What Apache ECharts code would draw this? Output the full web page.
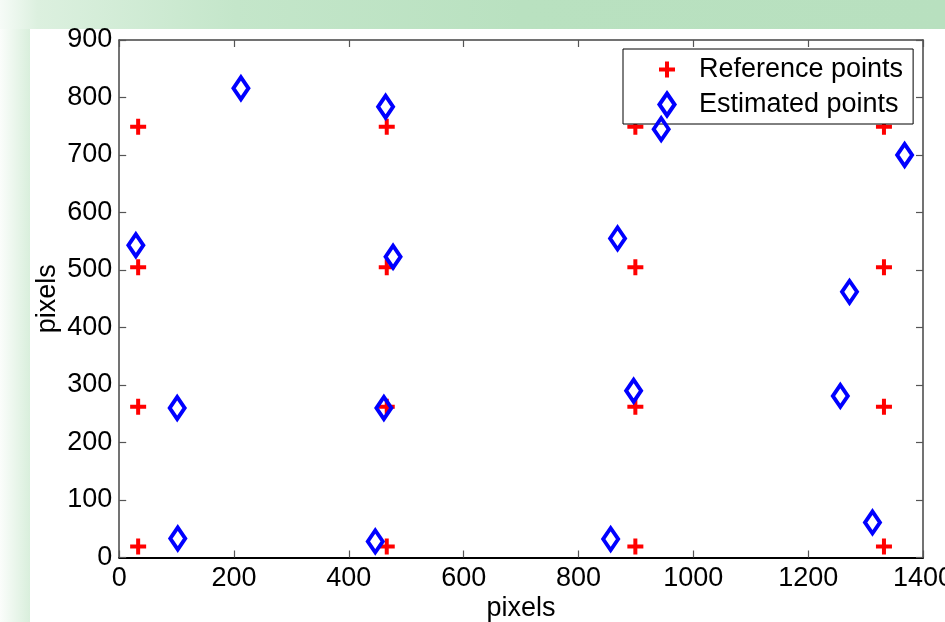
<!DOCTYPE html>
<html>
<head>
<meta charset="utf-8">
<script src="https://cdn.jsdelivr.net/npm/echarts@6/dist/echarts.min.js"></script>
<style>
  html, body { margin: 0; padding: 0; background: #fff; }
  #chart { width: 945px; height: 622px; }
</style>
</head>
<body>
<div id="chart"></div>
<script>
// ---- data ----
const xTicks = [0, 200, 400, 600, 800, 1000, 1200, 1400];
const yTicks = [0, 100, 200, 300, 400, 500, 600, 700, 800, 900];
const seriesNames = ['Reference points', 'Estimated points'];
const axisTitleX = 'pixels';
const axisTitleY = 'pixels';

const referencePoints = [
  [33, 19], [33, 262], [33, 505], [33, 749],
  [466, 19], [466, 262], [466, 505], [466, 749],
  [899, 19], [899, 262], [899, 505], [899, 749],
  [1332, 19], [1332, 262], [1332, 505], [1332, 749]
];

const estimatedPoints = [
  [29, 543], [101, 260], [102, 33], [212, 816],
  [464, 784], [477, 523], [461, 260], [446, 28],
  [868, 555], [896, 290], [856, 32], [944, 745],
  [1272, 462], [1256, 281], [1312, 61], [1368, 700]
];

// ---- styling ----
const FONT = "'Liberation Sans', Arial, Helvetica, sans-serif";
const PLUS = 'path://M-1,0 L1,0 M0,-1 L0,1';
const PLUS_LEGEND = 'path://M-1.375,-1.375 M1.375,1.375 M-1,0 L1,0 M0,-1 L0,1';
const DIAMOND = 'path://M0,-1.45 L1,0 L0,1.45 L-1,0 Z';

const chart = echarts.init(document.getElementById('chart'), null, { renderer: 'canvas' });

const plainNumber = function (v) { return String(v); };

const baseAxisX = {
  type: 'value', min: xTicks[0], max: xTicks[xTicks.length - 1], interval: xTicks[1] - xTicks[0],
  splitLine: { show: false },
  axisTick: { show: true, inside: true, length: 7, lineStyle: { color: '#555', width: 1.2 } }
};
const baseAxisY = {
  type: 'value', min: yTicks[0], max: yTicks[yTicks.length - 1], interval: yTicks[1] - yTicks[0],
  splitLine: { show: false },
  axisTick: { show: true, inside: true, length: 7, lineStyle: { color: '#555', width: 1.2 } }
};

const option = {
  animation: false,
  backgroundColor: '#ffffff',
  textStyle: { fontFamily: FONT },
  graphic: [
    {
      type: 'rect', z: -10, silent: true,
      shape: { x: 0, y: 0, width: 945, height: 29 },
      style: {
        fill: new echarts.graphic.LinearGradient(0, 0, 1, 0, [
          { offset: 0, color: '#f6fbf7' },
          { offset: 0.04, color: '#dcf0df' },
          { offset: 0.25, color: '#c4e6ca' },
          { offset: 0.55, color: '#b9e1c0' },
          { offset: 1, color: '#b8e0bf' }
        ])
      }
    },
    {
      type: 'rect', z: -10, silent: true,
      shape: { x: 0, y: 29, width: 30, height: 593 },
      style: {
        fill: new echarts.graphic.LinearGradient(0, 0, 1, 0, [
          { offset: 0, color: '#fbfdfb' },
          { offset: 1, color: '#d9efdc' }
        ])
      }
    }
  ],
  grid: { left: 119.2, right: 22, top: 40, bottom: 64.5, containLabel: false, outerBoundsMode: 'none' },
  legend: {
    orient: 'vertical',
    left: 623, top: 49,
    padding: [7, 10, 6, 31],
    itemGap: 8,
    itemWidth: 54, itemHeight: 22,
    backgroundColor: '#ffffff',
    borderColor: '#000000', borderWidth: 1, borderRadius: 0,
    selectedMode: false,
    textStyle: { fontFamily: FONT, fontSize: 27, color: '#000', lineHeight: 26 },
    data: [
      { name: seriesNames[0], icon: PLUS_LEGEND, symbolKeepAspect: true,
        itemStyle: { color: 'rgba(0,0,0,0)', borderColor: '#ff0000', borderWidth: 4 } },
      { name: seriesNames[1], icon: DIAMOND, symbolKeepAspect: true,
        itemStyle: { color: 'rgba(0,0,0,0)', borderColor: '#0000ff', borderWidth: 4 } }
    ]
  },
  xAxis: [
    Object.assign({}, baseAxisX, {
      position: 'bottom',
      name: axisTitleX, nameLocation: 'middle', nameGap: 37.5, nameMoveOverlap: false,
      nameTextStyle: { fontFamily: FONT, fontSize: 27, color: '#000' },
      axisLine: { show: true, onZero: false, lineStyle: { color: '#000', width: 2 } },
      axisLabel: { show: true, margin: 8, fontFamily: FONT, fontSize: 27, color: '#000', formatter: plainNumber }
    }),
    Object.assign({}, baseAxisX, {
      position: 'top',
      axisLine: { show: true, onZero: false, lineStyle: { color: '#444', width: 1.5 } },
      axisLabel: { show: false }
    })
  ],
  yAxis: [
    Object.assign({}, baseAxisY, {
      position: 'left',
      name: axisTitleY, nameLocation: 'middle', nameGap: 58, nameRotate: 90, nameMoveOverlap: false,
      nameTextStyle: { fontFamily: FONT, fontSize: 27, color: '#000' },
      axisLine: { show: true, onZero: false, lineStyle: { color: '#444', width: 1.5 } },
      axisLabel: { show: true, margin: 7, fontFamily: FONT, fontSize: 27, color: '#000', formatter: plainNumber }
    }),
    Object.assign({}, baseAxisY, {
      position: 'right',
      axisLine: { show: true, onZero: false, lineStyle: { color: '#444', width: 1.5 } },
      axisLabel: { show: false }
    })
  ],
  series: [
    {
      name: seriesNames[0], type: 'scatter', xAxisIndex: 0, yAxisIndex: 0,
      symbol: PLUS, symbolSize: 16,
      itemStyle: { color: 'rgba(0,0,0,0)', borderColor: '#ff0000', borderWidth: 4, opacity: 1 },
      emphasis: { disabled: true },
      data: referencePoints, z: 3
    },
    {
      name: seriesNames[1], type: 'scatter', xAxisIndex: 0, yAxisIndex: 0,
      symbol: DIAMOND, symbolSize: [15, 22],
      itemStyle: { color: 'rgba(0,0,0,0)', borderColor: '#0000ff', borderWidth: 4, opacity: 1 },
      emphasis: { disabled: true },
      data: estimatedPoints, z: 4
    }
  ]
};

chart.setOption(option);
</script>
</body>
</html>
